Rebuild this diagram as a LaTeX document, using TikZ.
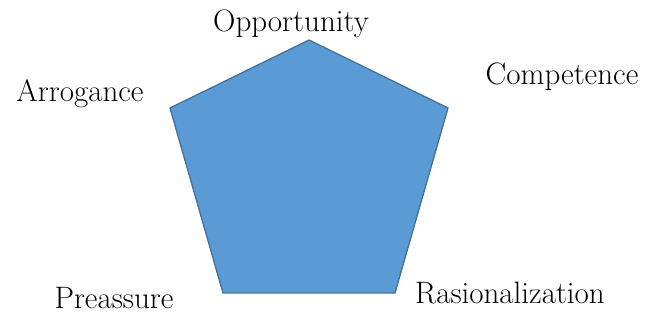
\documentclass[tikz,border=0pt]{standalone}
\usetikzlibrary{positioning}
\definecolor{pentafill}{HTML}{5B9BD5}
\definecolor{pentaline}{HTML}{41719C}
\begin{document}
\begin{tikzpicture}[x=1pt, y=-1pt,
    vtxtext/.style={font=\fontsize{31}{35}\selectfont, anchor=base}]
  \useasboundingbox (0,0) rectangle (659,320);
  % corners of the pentagon
  \coordinate (ctop) at (309,40);
  \coordinate (cright) at (448,108);
  \coordinate (cbright) at (395,293);
  \coordinate (cbleft) at (223,293);
  \coordinate (cleft) at (170,108);
  \draw[pentaline, fill=pentafill, line width=1.3pt, line join=miter]
    (ctop) -- (cright) -- (cbright) -- (cbleft) -- (cleft) -- cycle;
  % labels
  \node[vtxtext] (opp) at (291,32) {Opportunity};
  \node[vtxtext] (comp) at (562,85) {Competence};
  \node[vtxtext] (arro) at (80,102) {Arrogance};
  \node[vtxtext] (prea) at (114,309) {Preassure};
  \node[vtxtext] (rasi) at (510,304) {Rasionalization};
\end{tikzpicture}
\end{document}
